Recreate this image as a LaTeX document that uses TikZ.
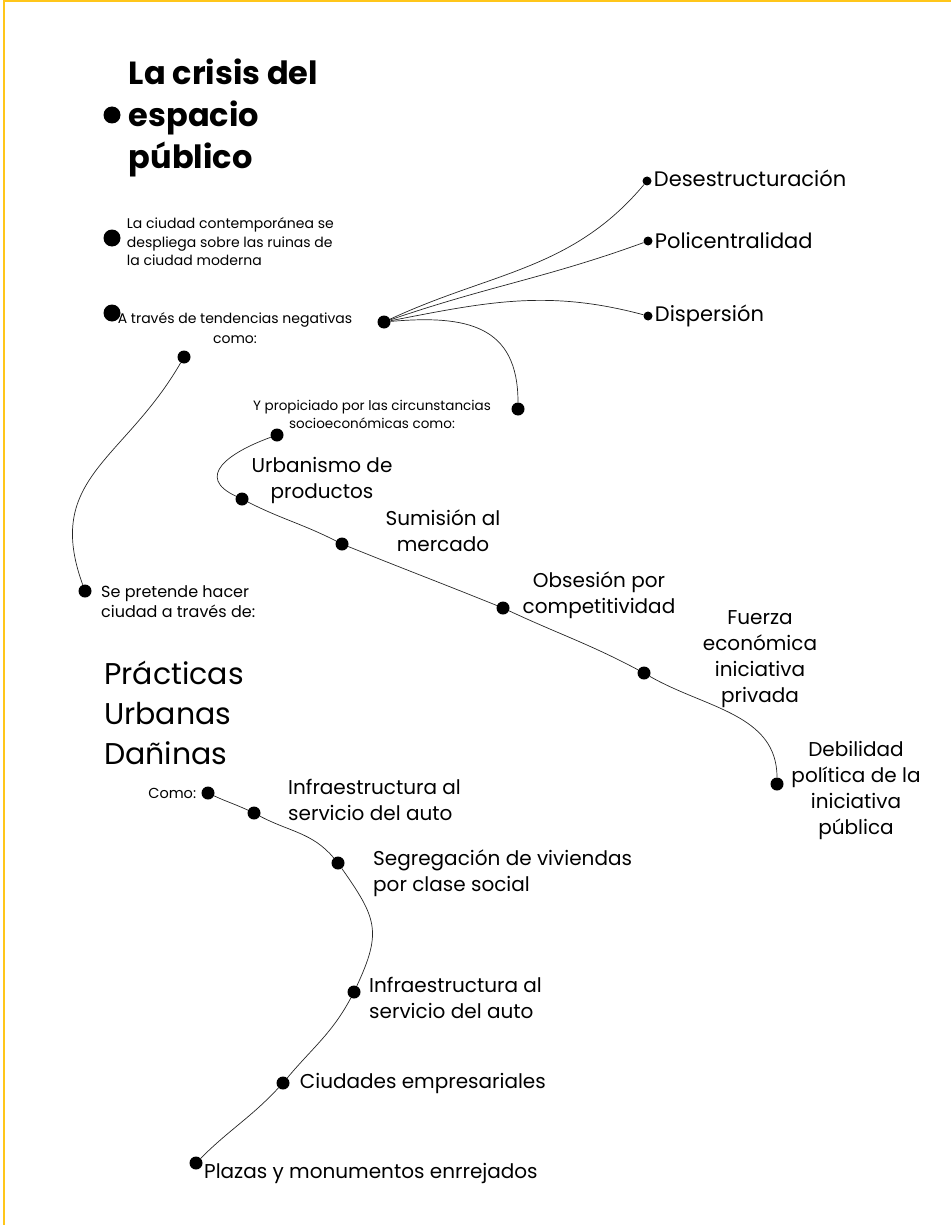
\documentclass[tikz,border=0pt]{standalone}
\usepackage{fontspec}
\setmainfont{Poppins}
\usepackage{xcolor}
\usepackage{tikz}
\usetikzlibrary{positioning}
\definecolor{frameyellow}{HTML}{FFC61A}

\begin{document}
\begin{tikzpicture}[
    x=1pt, y=1pt,
    bullet/.style={circle, fill=black, inner sep=0pt, minimum size=13pt},
    bigbullet/.style={bullet, minimum size=17pt},
    smallbullet/.style={bullet, minimum size=9pt},
    titletext/.style={align=left, inner sep=0pt, font=\bfseries\fontsize{32}{42}\selectfont},
    bigtext/.style={align=left, inner sep=0pt, font=\fontsize{30}{40}\selectfont},
    itemtext/.style={align=center, inner sep=0pt, font=\fontsize{20}{26}\selectfont},
    branchtext/.style={align=left, inner sep=0pt, font=\fontsize{21}{26}\selectfont},
    smalltext/.style={align=left, inner sep=0pt, font=\fontsize{14}{18.5}\selectfont},
    link/.style={line width=0.7pt, black!85}
]
    \useasboundingbox (0,0) rectangle (951,-1225);
    % Frame
    \draw[frameyellow, line width=2pt] (3.5,-1225) -- (3.5,-1.5) -- (951,-1.5);

    % Title and intro
    \node[bigbullet] (titledot) at (112,-115) {};
    \node[titletext, right=8pt of titledot, yshift=-3pt] (title) {La crisis del\\espacio\\público};
    \node[bigbullet] (ruinasdot) at (112,-238) {};
    \node[smalltext, right=6pt of ruinasdot, yshift=-4pt] (ruinas) {La ciudad contemporánea se\\despliega sobre las ruinas de\\la ciudad moderna};
    \node[bigbullet] (tendedot) at (112,-313) {};
    \node[smalltext, align=center, font=\fontsize{14}{20}\selectfont] (tende) at (235,-328) {A través de tendencias negativas\\como:};
    \node[bullet] (comodot) at (184,-357) {};

    % Negative trends
    \node[bullet] (hub) at (384,-322) {};
    \node[smallbullet] (desdot) at (647,-181) {};
    \node[branchtext, right=2pt of desdot, yshift=3pt] (des) {Desestructuración};
    \node[smallbullet] (poldot) at (648,-241) {};
    \node[branchtext, right=2pt of poldot] (pol) {Policentralidad};
    \node[smallbullet] (disdot) at (648,-316) {};
    \node[branchtext, right=2pt of disdot] (dis) {Dispersión};
    \node[bullet] (propdot) at (518,-409) {};
    \node[smalltext, align=center, font=\fontsize{13.5}{18}\selectfont] (prop) at (372,-414) {Y propiciado por las circunstancias\\socioeconómicas como:};

    % Socioeconomic circumstances
    \node[bullet] (startdot) at (277,-435) {};
    \node[bullet] (urbdot) at (242,-499) {};
    \node[itemtext] (urb) at (322,-480) {Urbanismo de\\productos};
    \node[bullet] (sumdot) at (342,-544) {};
    \node[itemtext] (sum) at (443,-531) {Sumisión al\\mercado};
    \node[bullet] (obsdot) at (503,-608) {};
    \node[itemtext] (obs) at (599,-595) {Obsesión por\\competitividad};
    \node[bullet] (fuedot) at (644,-673) {};
    \node[itemtext] (fue) at (760,-659) {Fuerza\\económica\\iniciativa\\privada};
    \node[bullet] (debdot) at (777,-784) {};
    \node[itemtext] (deb) at (856,-790) {Debilidad\\política de la\\iniciativa\\pública};

    % Harmful practices
    \node[bullet] (hacerdot) at (85,-591) {};
    \node[smalltext, font=\fontsize{16}{20}\selectfont, anchor=west] (hacer) at (101,-602) {Se pretende hacer\\ciudad a través de:};
    \node[bigtext, anchor=west] (danina) at (104,-713) {Prácticas\\Urbanas\\Dañinas};
    \node[bullet] (practdot) at (208,-793) {};
    \node[smalltext, font=\fontsize{14.5}{18}\selectfont, left=5pt of practdot] (como) {Como:};
    \node[bullet] (infadot) at (254,-813) {};
    \node[itemtext, align=left, anchor=west] (infa) at (288,-800) {Infraestructura al\\servicio del auto};
    \node[bullet] (segdot) at (338,-863) {};
    \node[itemtext, align=left, anchor=west] (seg) at (373,-873) {Segregación de viviendas\\por clase social};
    \node[bullet] (infbdot) at (354,-992) {};
    \node[itemtext, align=left, anchor=west] (infb) at (369,-998) {Infraestructura al\\servicio del auto};
    \node[bullet] (ciudot) at (283,-1083) {};
    \node[itemtext, right=10pt of ciudot] (ciu) {Ciudades empresariales};
    \node[bullet] (plazdot) at (196,-1163) {};
    \node[itemtext, anchor=west] (plaz) at (204,-1173) {Plazas y monumentos enrrejados};

    % Connections
    \draw[link] (hub) to[out=25, in=230] (desdot);
    \draw[link] (hub) to[out=19, in=200] (poldot);
    \draw[link] (hub) to[out=11, in=165] (disdot);
    \draw[link] (hub) to[out=5, in=90, looseness=1.3] (propdot);
    \draw[link] (comodot) to[out=240, in=110, looseness=1.2] (hacerdot);
    \draw[link] (startdot) to[out=200, in=155, looseness=1.7] (urbdot) to[out=-27, in=153] (sumdot)
        to[out=-22, in=158] (obsdot) to[out=-25, in=152] (fuedot) to[out=-30, in=90] (debdot);
    \draw[link] (practdot) to[out=-25, in=155] (infadot) to[out=-28, in=130] (segdot)
        to[out=-55, in=65, looseness=1.3] (infbdot) to[out=-118, in=50] (ciudot) to[out=-133, in=45] (plazdot);
\end{tikzpicture}
\end{document}
